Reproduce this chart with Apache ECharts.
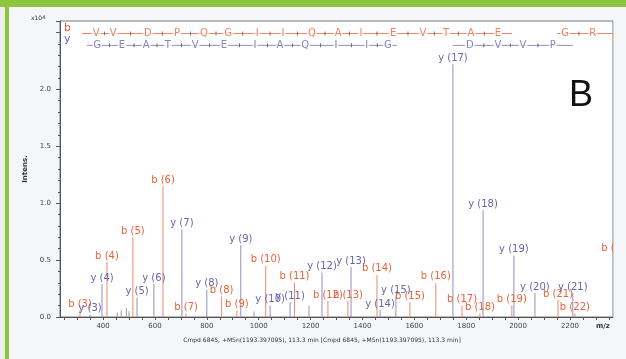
<!DOCTYPE html>
<html>
<head>
<meta charset="utf-8">
<script src="https://cdn.jsdelivr.net/npm/echarts@6/dist/echarts.min.js"></script>
<style>
html,body{margin:0;padding:0;background:#f4f6f7;}
#c{width:626px;height:359px;}
</style>
</head>
<body>
<div id="c"></div>
<script>
// ---- data (m/z, intensity x10^4) ----
const bNames = ['b (3)','b (4)','b (5)','b (6)','b (7)','b (8)','b (9)','b (10)','b (11)','b (12)','b (13)','b (14)','b (15)','b (16)','b (17)','b (18)','b (19)','b (21)','b (22)','b (23)'];
const bMz    = [311, 415, 515, 631, 720, 857, 916, 1027, 1138, 1267, 1344, 1456, 1583, 1683, 1784, 1853, 1976, 2154, 2219, 2379];
const bInt   = [0.06,0.48,0.70,1.15,0.03,0.18,0.06,0.45, 0.30, 0.14, 0.14, 0.37, 0.13, 0.30, 0.10, 0.03, 0.10, 0.15, 0.03, 0.55];

const yNames = ['y (3)','y (4)','y (5)','y (6)','y (7)','y (8)','y (9)','y (10)','y (11)','y (12)','y (13)','y (14)','y (15)','y (17)','y (18)','y (19)','y (20)','y (21)'];
const yMz    = [350, 396, 531, 596, 704, 800, 931, 1044, 1121, 1244, 1356, 1468, 1529, 1749, 1865, 1984, 2065, 2211];
const yInt   = [0.02,0.29,0.17,0.29,0.77,0.24,0.63,0.10, 0.13, 0.39, 0.44, 0.06, 0.18, 2.22, 0.94, 0.54, 0.21, 0.21];

const otherMz  = [455, 470, 490, 500, 982, 1194];
const otherInt = [0.04,0.06,0.08,0.05,0.05,0.10];

// sequence annotation (letters placed on m/z scale)
const bSeq   = ['V','V','D','P','Q','G','I','I','Q','A','I','E','V','T','A','E','G','R'];
const bSeqMz = [373,439,573,685,789,882,994,1094,1205,1306,1394,1518,1633,1722,1818,1922,2181,2288];
const bSpans = [[319,1977],[2150,2366]];
const ySeq   = ['G','E','A','T','V','E','I','A','Q','I','I','G','D','V','V','P'];
const ySeqMz = [377,473,566,650,755,866,986,1082,1179,1298,1417,1498,1814,1922,2019,2134];
const ySpans = [[338,1533],[1749,2211]];

const xLabels = [400,600,800,1000,1200,1400,1600,1800,2000,2200];
const yLabels = [0,0.5,1.0,1.5,2.0];

// ---- build ----
const B_COL = '#e8643a', Y_COL = '#6666aa', G_COL = '#9a9a9a';
const peaks = [];
bMz.forEach((m,i)=>peaks.push({value:[m,bInt[i]],name:bNames[i],itemStyle:{color:'#ee8a66'},label:{color:B_COL}}));
yMz.forEach((m,i)=>peaks.push({value:[m,yInt[i]],name:yNames[i],itemStyle:{color:'#8e8ec4'},label:{color:Y_COL}}));
otherMz.forEach((m,i)=>peaks.push({value:[m,otherInt[i]],name:'',itemStyle:{color:G_COL},label:{show:false}}));

const B_ROW = 2.49, Y_ROW = 2.386;
function spanData(spans,row){const d=[];spans.forEach((s,i)=>{if(i>0)d.push([s[0],'-']);d.push([s[0],row]);d.push([s[1],row]);});return d;}
function mids(arr,row,spans){const d=[];for(let i=0;i<arr.length-1;i++){const m=(arr[i]+arr[i+1])/2;if(spans.some(s=>m>s[0]&&m<s[1]))d.push([m,row]);}return d;}

const xTicks=[];for(let v=250;v<=2350;v+=50)xTicks.push(v);

const chart = echarts.init(document.getElementById('c'));
chart.setOption({
  backgroundColor:'#f4f6f7',
  animation:false,
  grid:{left:60,right:13,top:21,bottom:42,show:true,borderColor:'#777',borderWidth:1,backgroundColor:'#ffffff'},
  xAxis:{type:'value',min:234,max:2366,
    axisLine:{show:true,onZero:false,lineStyle:{color:'#555'}},
    axisTick:{show:true,customValues:xTicks,length:3,lineStyle:{color:'#555'}},
    axisLabel:{customValues:xLabels,formatter:v=>String(v),fontSize:7,color:'#444',margin:6,fontFamily:'DejaVu Sans'},
    splitLine:{show:false}},
  yAxis:{type:'value',min:0,max:2.6,interval:0.5,
    name:'Intens.',nameLocation:'middle',nameGap:26,nameRotate:90,
    nameTextStyle:{fontSize:7,fontWeight:'bold',color:'#333',fontFamily:'DejaVu Sans'},
    axisLine:{show:true,lineStyle:{color:'#555'}},
    axisTick:{show:true,length:4,lineStyle:{color:'#555'}},
    minorTick:{show:true,splitNumber:5,length:2,lineStyle:{color:'#555'}},
    axisLabel:{customValues:yLabels,formatter:v=>Number(v).toFixed(1),fontSize:7,color:'#444',margin:9,fontFamily:'DejaVu Sans'},
    splitLine:{show:false}},
  series:[
    {type:'bar',data:peaks,barWidth:1,clip:false,
     label:{show:true,position:'top',distance:1,formatter:p=>p.name,fontSize:10,fontFamily:'DejaVu Sans'},
     emphasis:{disabled:true},z:3},
    {type:'line',data:spanData(bSpans,B_ROW),symbol:'none',lineStyle:{color:'#e88a6a',width:1},z:2,silent:true},
    {type:'line',data:spanData(ySpans,Y_ROW),symbol:'none',lineStyle:{color:'#8e8ec4',width:1},z:2,silent:true},
    {type:'scatter',data:mids(bSeqMz,B_ROW,bSpans),symbol:'rect',symbolSize:[1,4],itemStyle:{color:'#555'},z:3,silent:true},
    {type:'scatter',data:mids(ySeqMz,Y_ROW,ySpans),symbol:'rect',symbolSize:[1,4],itemStyle:{color:'#555'},z:3,silent:true},
    {type:'scatter',data:bSeq.map((s,i)=>({value:[bSeqMz[i],B_ROW],name:s})),symbolSize:0,z:4,silent:true,
     label:{show:true,position:'inside',formatter:p=>p.name,color:B_COL,fontSize:10,fontFamily:'DejaVu Sans',backgroundColor:'#fff',padding:[0,1]}},
    {type:'scatter',data:ySeq.map((s,i)=>({value:[ySeqMz[i],Y_ROW],name:s})),symbolSize:0,z:4,silent:true,
     label:{show:true,position:'inside',formatter:p=>p.name,color:Y_COL,fontSize:10,fontFamily:'DejaVu Sans',backgroundColor:'#fff',padding:[0,1]}}
  ],
  graphic:[
    {type:'rect',z:100,shape:{x:613.6,y:7,width:13,height:352},style:{fill:'#f4f6f7'}},
    {type:'rect',z:100,shape:{x:0,y:0,width:5,height:359},style:{fill:'#eef0f0'}},
    {type:'rect',z:101,shape:{x:0,y:0,width:626,height:7},style:{fill:'#8cc63f'}},
    {type:'rect',z:101,shape:{x:5,y:0,width:4,height:359},style:{fill:'#8cc63f'}},
    {type:'text',z:102,left:64,top:23,style:{text:'b',fill:B_COL,font:'11px DejaVu Sans'}},
    {type:'text',z:102,left:64,top:34,style:{text:'y',fill:Y_COL,font:'11px DejaVu Sans'}},
    {type:'text',z:102,left:31,top:15,style:{text:'{a|x10}{b|4}',rich:{a:{fontSize:6,fill:'#333',fontFamily:'DejaVu Sans'},b:{fontSize:5,fill:'#333',verticalAlign:'top',fontFamily:'DejaVu Sans'}}}},
    {type:'text',z:102,left:596,top:323,style:{text:'m/z',fill:'#333',font:'bold 7px DejaVu Sans'}},
    {type:'text',z:102,x:322,y:340,style:{text:'Cmpd 6845, +MSn(1193.397095), 113.3 min [Cmpd 6845, +MSn(1193.397095), 113.3 min]',fill:'#333',font:'6px DejaVu Sans',align:'center',verticalAlign:'middle'}},
    {type:'text',z:102,x:569,y:96,style:{text:'B',fill:'#111',font:'36px Liberation Sans',verticalAlign:'middle'}}
  ]
});
</script>
</body>
</html>
